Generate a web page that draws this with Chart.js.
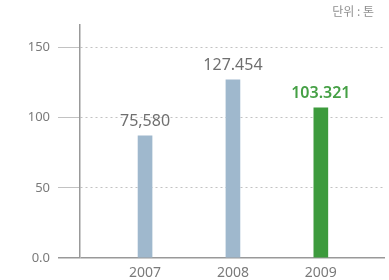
<!DOCTYPE html>
<html>
<head>
<meta charset="utf-8">
<script src="https://cdn.jsdelivr.net/npm/chart.js@4/dist/chart.umd.min.js"></script>
<style>
  html, body { margin: 0; padding: 0; background: #fff; }
  #wrap { width: 389px; height: 280px; position: relative; }
</style>
</head>
<body>
<div id="wrap"><canvas id="chart"></canvas></div>
<script>
// data
const years = [2007, 2008, 2009];
const amounts = [87, 127, 107];
const valueLabels = ['75,580', '127.454', '103.321'];
const yTicks = [0, 50, 100, 150];
const unitText = '단위 : 톤';

const barColors = ['#9fb8cd', '#9fb8cd', '#3d9b3d'];
const labelColors = ['#6f6f6f', '#6f6f6f', '#45a045'];

// value labels above bars + unit text
const valueLabelPlugin = {
    id: 'valueLabels',
    afterDatasetsDraw: (chart) => {
        const { ctx } = chart;
        const meta = chart.getDatasetMeta(0);
        ctx.save();
        ctx.textAlign = 'center';
        ctx.textBaseline = 'bottom';
        meta.data.forEach((bar, i) => {
            ctx.font = (i === 2 ? '600 ' : '') + '16px "Noto Sans"';
            ctx.fillStyle = labelColors[i];
            ctx.fillText(valueLabels[i], bar.x, bar.y - 6);
        });
        ctx.font = '12px "Noto Sans CJK KR"';
        ctx.fillStyle = '#8f8f8f';
        ctx.textAlign = 'right';
        ctx.textBaseline = 'middle';
        ctx.fillText(unitText, 374, 11);
        ctx.restore();
    }
};

new Chart(document.getElementById('chart'), {
    type: 'bar',
    data: {
        datasets: [{
            data: years.map((y, i) => ({ x: y, y: amounts[i] })),
            backgroundColor: barColors,
            borderWidth: 0,
            barThickness: 14
        }]
    },
    options: {
        responsive: true,
        maintainAspectRatio: false,
        animation: false,
        layout: {
            padding: { top: 25, right: 4, left: 0, bottom: 0 }
        },
        plugins: {
            legend: { display: false },
            tooltip: { enabled: false }
        },
        scales: {
            x: {
                type: 'linear',
                offset: false,
                min: 2006.26,
                max: 2009.73,
                afterBuildTicks: (scale) => {
                    scale.ticks = years.map(v => ({ value: v }));
                },
                afterFit: (scale) => {
                    scale.height = 22;
                },
                grid: { display: false, drawTicks: false },
                border: { display: false },
                ticks: {
                    color: '#7a7a7a',
                    padding: 7,
                    maxRotation: 0,
                    font: { family: 'Noto Sans', size: 14 },
                    callback: (v) => String(v)
                }
            },
            y: {
                min: 0,
                max: 166,
                afterBuildTicks: (scale) => {
                    scale.ticks = yTicks.map(v => ({ value: v }));
                },
                afterFit: (scale) => {
                    scale.width = 80;
                },
                grid: {
                    color: (c) => (c.tick && c.tick.value === 0) ? '#999' : '#c2c2c2',
                    lineWidth: (c) => (c.tick && c.tick.value === 0) ? 1.5 : 1,
                    tickLength: 22
                },
                border: {
                    display: true,
                    color: '#999',
                    width: 1.5,
                    dash: (c) => (c.tick && c.tick.value !== 0) ? [2, 3] : []
                },
                ticks: {
                    color: '#7a7a7a',
                    padding: 8,
                    font: { family: 'Noto Sans', size: 13 },
                    callback: (v) => v === 0 ? '0.0' : v
                }
            }
        }
    },
    plugins: [valueLabelPlugin]
});
</script>
</body>
</html>
